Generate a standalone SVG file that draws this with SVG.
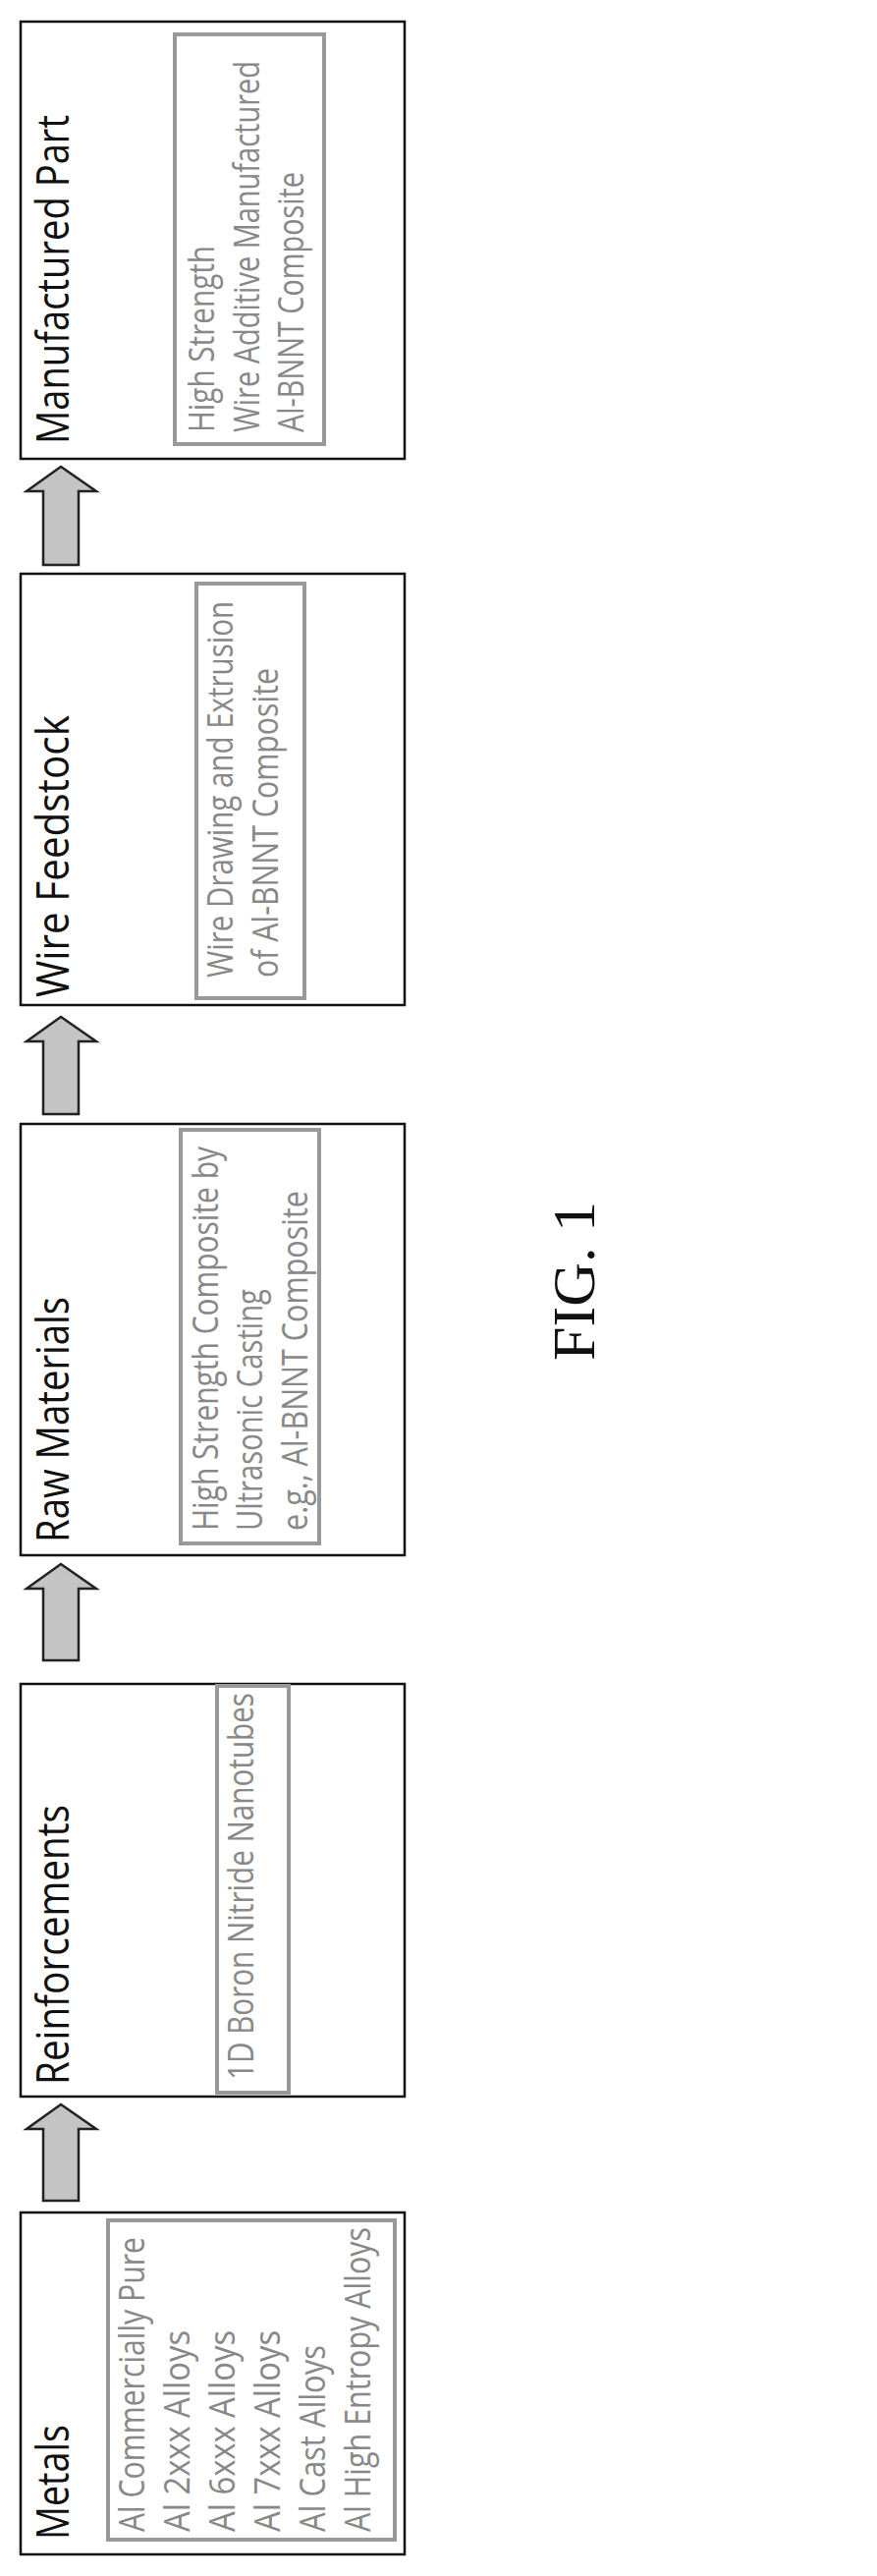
<svg xmlns="http://www.w3.org/2000/svg" width="893" height="2622" viewBox="0 0 893 2622">
<style>
.outer{fill:#fff;stroke:#111;stroke-width:2.5}
.inner{fill:none;stroke:#999;stroke-width:4}
.title{font-family:"Open Sans","Liberation Sans",sans-serif;font-size:46px;fill:#111}
.item{font-family:"Open Sans","Liberation Sans",sans-serif;font-size:36px;fill:#888}
.arrow{fill:#c4c4c4;stroke:#222;stroke-width:2.5;stroke-linejoin:miter}
.fig{font-family:"Liberation Serif",serif;font-size:62px;fill:#111}
</style>
<rect width="893" height="2622" fill="#fff"/>
<g id="manufactured-part">
<rect class="outer" x="21" y="22" width="391" height="445"/>
<rect class="inner" x="178" y="35" width="152" height="417"/>
<text class="title" transform="translate(70,452) rotate(-90)" textLength="335" lengthAdjust="spacingAndGlyphs">Manufactured Part</text>
<text class="item" transform="translate(218,440) rotate(-90)" textLength="190" lengthAdjust="spacingAndGlyphs">High Strength</text>
<text class="item" transform="translate(264,440) rotate(-90)" textLength="378" lengthAdjust="spacingAndGlyphs">Wire Additive Manufactured</text>
<text class="item" transform="translate(309,440) rotate(-90)" textLength="265" lengthAdjust="spacingAndGlyphs">Al-BNNT Composite</text>
</g>
<g id="wire-feedstock">
<rect class="outer" x="21" y="584" width="391" height="439"/>
<rect class="inner" x="200" y="594" width="110" height="422"/>
<text class="title" transform="translate(70,1015) rotate(-90)" textLength="287" lengthAdjust="spacingAndGlyphs">Wire Feedstock</text>
<text class="item" transform="translate(237,995) rotate(-90)" textLength="383" lengthAdjust="spacingAndGlyphs">Wire Drawing and Extrusion</text>
<text class="item" transform="translate(283,995) rotate(-90)" textLength="315" lengthAdjust="spacingAndGlyphs">of Al-BNNT Composite</text>
</g>
<g id="raw-materials">
<rect class="outer" x="21" y="1144" width="391" height="439"/>
<rect class="inner" x="184" y="1150" width="141" height="421"/>
<text class="title" transform="translate(70,1570) rotate(-90)" textLength="250" lengthAdjust="spacingAndGlyphs">Raw Materials</text>
<text class="item" transform="translate(222,1558) rotate(-90)" textLength="391" lengthAdjust="spacingAndGlyphs">High Strength Composite by</text>
<text class="item" transform="translate(267,1558) rotate(-90)" textLength="246" lengthAdjust="spacingAndGlyphs">Ultrasonic Casting</text>
<text class="item" transform="translate(313,1558) rotate(-90)" textLength="346" lengthAdjust="spacingAndGlyphs">e.g., Al-BNNT Composite</text>
</g>
<g id="reinforcements">
<rect class="outer" x="21" y="1714" width="391" height="420"/>
<rect class="inner" x="221" y="1716" width="73" height="414"/>
<text class="title" transform="translate(70,2122) rotate(-90)" textLength="285" lengthAdjust="spacingAndGlyphs">Reinforcements</text>
<text class="item" transform="translate(258,2117) rotate(-90)" textLength="394" lengthAdjust="spacingAndGlyphs">1D Boron Nitride Nanotubes</text>
</g>
<g id="metals">
<rect class="outer" x="21" y="2252" width="391" height="348"/>
<rect class="inner" x="110" y="2260" width="292" height="325"/>
<text class="title" transform="translate(70,2585) rotate(-90)" textLength="117" lengthAdjust="spacingAndGlyphs">Metals</text>
<text class="item" transform="translate(147,2577) rotate(-90)" textLength="300" lengthAdjust="spacingAndGlyphs">Al Commercially Pure</text>
<text class="item" transform="translate(193,2577) rotate(-90)" textLength="205" lengthAdjust="spacingAndGlyphs">Al 2xxx Alloys</text>
<text class="item" transform="translate(239,2577) rotate(-90)" textLength="205" lengthAdjust="spacingAndGlyphs">Al 6xxx Alloys</text>
<text class="item" transform="translate(285,2577) rotate(-90)" textLength="205" lengthAdjust="spacingAndGlyphs">Al 7xxx Alloys</text>
<text class="item" transform="translate(331,2577) rotate(-90)" textLength="190" lengthAdjust="spacingAndGlyphs">Al Cast Alloys</text>
<text class="item" transform="translate(377,2577) rotate(-90)" textLength="310" lengthAdjust="spacingAndGlyphs">Al High Entropy Alloys</text>
</g>
<g id="connectors">
<path class="arrow" d="M62,475 L98,500 L80,500 L80,575 L44,575 L44,500 L27,500 Z"/>
<path class="arrow" d="M62,1035 L98,1060 L80,1060 L80,1134 L44,1134 L44,1060 L27,1060 Z"/>
<path class="arrow" d="M62,1592 L98,1617 L80,1617 L80,1690 L44,1690 L44,1617 L27,1617 Z"/>
<path class="arrow" d="M62,2142 L98,2167 L80,2167 L80,2240 L44,2240 L44,2167 L27,2167 Z"/>
</g>
<text class="fig" transform="translate(605,1385) rotate(-90)">FIG. 1</text>
</svg>
